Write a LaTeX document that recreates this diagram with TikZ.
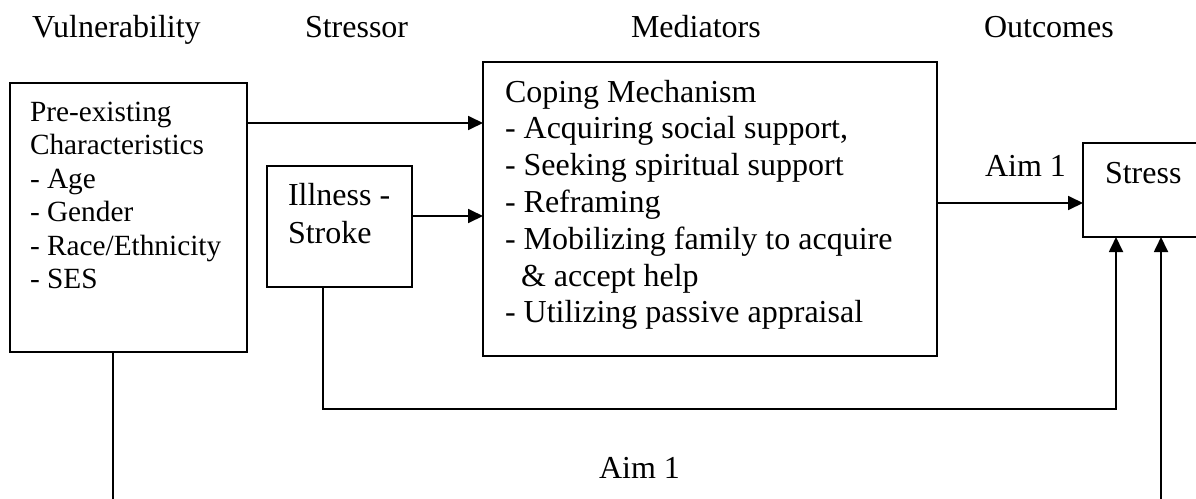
\documentclass[tikz,border=0pt]{standalone}
\usepackage{fontspec}
\setmainfont{Liberation Serif}
\usetikzlibrary{arrows.meta,calc}
\newcommand{\plainsp}{\spaceskip=0pt\xspaceskip=0pt\relax}
\begin{document}
\begin{tikzpicture}[x=1pt,y=-1pt,
  box/.style={draw, line width=1.8pt, rectangle, anchor=north west, inner sep=0pt, outer sep=0pt},
  txt/.style={anchor=base west, inner sep=0pt, outer sep=0pt},
  hdr/.style={anchor=base west, inner sep=0pt, outer sep=0pt, font=\fontsize{32}{36}\selectfont},
  conn/.style={line width=1.8pt},
  arr/.style={conn, -{Triangle[length=15pt,width=14pt]}}]
\clip (0,0) rectangle (1196,498);
\fill[white] (0,0) rectangle (1196,498);
% headers
\node[hdr] (h1) at (32,37) {Vulnerability};
\node[hdr] (h2) at (305,37) {Stressor};
\node[hdr] (h3) at (631,37) {Mediators};
\node[hdr] (h4) at (984,37) {Outcomes};
% boxes
\node[box, minimum width=237pt, minimum height=269pt] (V) at (10,83) {};
\node[box, minimum width=145pt, minimum height=121pt] (ill) at (267,166) {};
\node[box, minimum width=454pt, minimum height=294pt] (med) at (483,62) {};
\node[box, minimum width=140pt, minimum height=94pt] (str) at (1083,143) {};
% texts
\node[txt, text width=215pt, font=\fontsize{29.3}{33.5}\selectfont] (Vt) at (30,121)
  {\raggedright\plainsp Pre-existing\\Characteristics\\- Age\\- Gender\\- Race/Ethnicity\\- SES};
\node[txt, text width=120pt, font=\fontsize{32}{38}\selectfont] (illt) at (288,205)
  {\raggedright\plainsp Illness -\\Stroke};
\node[txt, text width=425pt, font=\fontsize{32}{36.8}\selectfont] (medt) at (505,102)
  {\raggedright\plainsp Coping Mechanism\\- Acquiring social support,\\- Seeking spiritual support\\- Reframing\\- Mobilizing family to acquire\\\hspace*{16pt}\& accept help\\- Utilizing passive appraisal};
\node[hdr] (strt) at (1105,183) {Stress};
\node[hdr] (aim1) at (985,176) {Aim 1};
\node[hdr] (aim2) at (599,478) {Aim 1};
% connectors
\coordinate (p1) at ($(V.north east)+(0,40)$);
\draw[arr] (p1) -- (p1 -| med.west);
\coordinate (p2) at ($(ill.north east)+(0,50)$);
\draw[arr] (p2) -- (p2 -| med.west);
\coordinate (p3) at ($(str.north west)+(0,60)$);
\draw[arr] (med.east |- p3) -- (p3);
\coordinate (c1) at (323,409);
\coordinate (c2) at (1116,409);
\draw[arr] (ill.south -| c1) -- (c1) -- (c2) -- (c2 |- str.south);
\coordinate (c3) at (113,510);
\draw[conn] (V.south -| c3) -- (c3);
\coordinate (c4) at (1161,510);
\draw[arr] (c4) -- (c4 |- str.south);
\end{tikzpicture}
\end{document}
